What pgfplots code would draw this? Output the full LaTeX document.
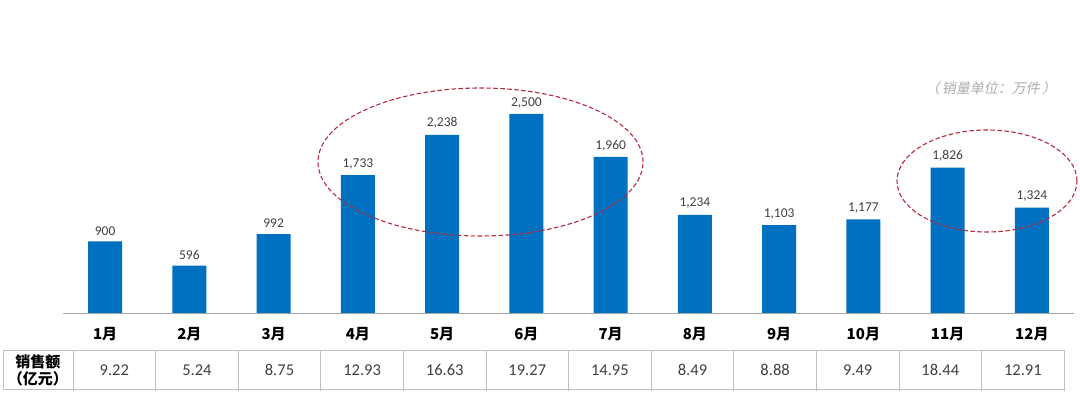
\documentclass[border=0pt]{standalone}
\usepackage{fontspec}
\usepackage{pgfplots}
\pgfplotsset{compat=1.18}
\setmainfont{Noto Sans CJK SC}
\newfontfamily\numfont{Carlito}
\newfontfamily\slantfont[FakeSlant=0.2]{Noto Sans CJK SC}
\definecolor{barblue}{RGB}{0,112,192}
\definecolor{lbl}{RGB}{64,64,64}
\definecolor{grid}{RGB}{191,191,191}
\definecolor{ell}{RGB}{180,40,60}
\begin{document}
\begin{tikzpicture}[x=1pt,y=1pt]
\path[use as bounding box] (0,0) rectangle (1080,396);
\begin{axis}[
  at={(63pt,83pt)}, anchor=south west,
  scale only axis, width=1011pt, height=238.8pt,
  xmin=0.5, xmax=12.5, ymin=0, ymax=3000,
  axis x line*=bottom, axis y line=none,
  x axis line style={-, draw=gray!70, line width=0.8pt},
  xtick=data,
  xticklabels={1月,2月,3月,4月,5月,6月,7月,8月,9月,10月,11月,12月},
  major tick length=0pt,
  xticklabel style={font=\bfseries\fontsize{15}{15}\selectfont, yshift=-11pt},
  ybar, bar width=34pt,
  clip=false,
  nodes near coords,
  nodes near coords style={font=\numfont\fontsize{13.5}{13.5}\selectfont, text=lbl,
    /pgf/number format/1000 sep={,}, /pgf/number format/assume math mode=true,
    inner sep=6pt},
]
\addplot[fill=barblue, draw=none] coordinates {
(1,900) (2,596) (3,992) (4,1733) (5,2238) (6,2500)
(7,1960) (8,1234) (9,1103) (10,1177) (11,1826) (12,1324)};
\end{axis}
% ellipses
\draw[ell, dash pattern=on 4.5pt off 2.5pt, line width=1.1pt] (480.5,234) ellipse [x radius=162.5, y radius=74];
\draw[ell, dash pattern=on 4.5pt off 2.5pt, line width=1.1pt] (987,215) ellipse [x radius=90, y radius=51];
% note
\node[text=gray!65, font=\slantfont\fontsize{14}{14}\selectfont] at (991,308) {（\,销量单位：万件\,）};
% table
\draw[grid, line width=0.8pt] (3,46) -- (1064,46);
\draw[grid, line width=0.8pt] (3,7) -- (1064,7);
\draw[grid, line width=0.8pt] (3,7) -- (3,46);
\foreach \k in {0,...,12} {
  \draw[grid, line width=0.8pt] ({73+82.6*\k},5) -- ({73+82.6*\k},46);
}
\node[font=\bfseries\fontsize{15}{15}\selectfont] at (38,34) {销售额};
\node[font=\bfseries\fontsize{15}{15}\selectfont] at (38,17) {（亿元）};
\foreach \v [count=\i from 0] in {9.22,5.24,8.75,12.93,16.63,19.27,14.95,8.49,8.88,9.49,18.44,12.91} {
  \node[text=lbl, font=\numfont\fontsize{16.5}{16.5}\selectfont] at ({73+82.6*(\i+0.5)},26) {\v};
}
\end{tikzpicture}
\end{document}
